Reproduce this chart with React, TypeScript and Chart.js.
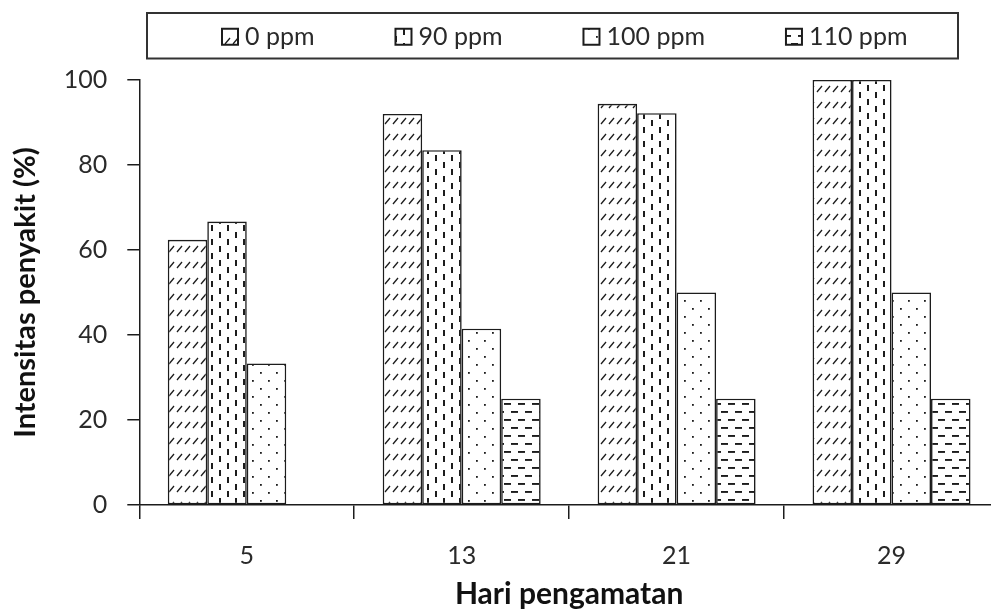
import { useEffect, useRef } from 'react';
import { Chart, registerables } from 'chart.js';

Chart.register(...registerables);

// ---- data ----
const days = ['5', '13', '21', '29'];
const seriesLabels = ['0 ppm', '90 ppm', '100 ppm', '110 ppm'];
const ppm0 = [62.4, 92, 94.4, 100];
const ppm90 = [66.7, 83.5, 92.2, 100];
const ppm100 = [33.3, 41.5, 50, 50];
const ppm110 = [0, 25, 25, 25];
const yTickValues = [0, 20, 40, 60, 80, 100];
const xTitle = 'Hari pengamatan';
const yTitle = 'Intensitas penyakit (%)';

// ---- styles ----
const INK = '#1c1c1c';
const TEXT = '#2a2a2a';
const FONT = 'Lato, "Open Sans", sans-serif';

function makePattern(kind: string): CanvasPattern | string {
  const c = document.createElement('canvas');
  let w = 16;
  let h = 16;
  if (kind === 'slash') { w = 8; h = 16; }
  if (kind === 'vdash') { w = 16; h = 14; }
  if (kind === 'hdash') { w = 14; h = 16; }
  c.width = w;
  c.height = h;
  const g = c.getContext('2d');
  if (!g) return '#fff';
  g.fillStyle = '#ffffff';
  g.fillRect(0, 0, w, h);
  g.fillStyle = INK;
  g.strokeStyle = INK;
  if (kind === 'slash') {
    g.lineWidth = 1.3;
    g.beginPath();
    g.moveTo(1, 12);
    g.lineTo(6, 6);
    g.stroke();
  } else if (kind === 'vdash') {
    g.fillRect(3, 1, 2, 6);
    g.fillRect(11, 8, 2, 6);
  } else if (kind === 'dots') {
    g.fillRect(4, 4, 1.8, 1.8);
    g.fillRect(12, 12, 1.8, 1.8);
  } else if (kind === 'hdash') {
    g.fillRect(0, 3, 7, 1.9);
    g.fillRect(7, 11, 7, 1.9);
  }
  const p = g.createPattern(c, 'repeat');
  return p || '#fff';
}

const boxLegend = {
  id: 'boxLegend',
  afterDraw(chart: any, _args: any, opts: any) {
    const { ctx } = chart;
    ctx.save();
    ctx.lineWidth = opts.borderWidth;
    ctx.strokeStyle = opts.borderColor;
    ctx.strokeRect(opts.left, opts.top, opts.right - opts.left, opts.bottom - opts.top);
    ctx.font = `${opts.fontSize}px ${FONT}`;
    ctx.textBaseline = 'middle';
    ctx.textAlign = 'left';
    const s = opts.swatch;
    const cy = (opts.top + opts.bottom) / 2 + 1;
    let x = opts.firstX;
    chart.data.datasets.forEach((ds: any) => {
      ctx.fillStyle = ds.backgroundColor;
      ctx.fillRect(x, cy - s / 2, s, s);
      ctx.lineWidth = 2;
      ctx.strokeStyle = ds.borderColor;
      ctx.strokeRect(x, cy - s / 2, s, s);
      ctx.fillStyle = TEXT;
      const tx = x + s + opts.textGap;
      ctx.fillText(ds.label, tx, cy);
      x = tx + ctx.measureText(ds.label).width + opts.itemGap;
    });
    ctx.restore();
  },
};

export default function App() {
  const canvasRef = useRef<HTMLCanvasElement | null>(null);

  useEffect(() => {
    const canvas = canvasRef.current;
    if (!canvas) return;
    const kinds = ['slash', 'vdash', 'dots', 'hdash'];
    const values = [ppm0, ppm90, ppm100, ppm110];
    const chart = new Chart(canvas, {
      type: 'bar',
      data: {
        labels: days,
        datasets: seriesLabels.map((label, i) => ({
          label,
          data: values[i],
          backgroundColor: makePattern(kinds[i]) as any,
          borderColor: INK,
          borderWidth: 1.6,
          borderSkipped: false,
          categoryPercentage: 0.735,
          barPercentage: 1,
        })),
      },
      plugins: [boxLegend],
      options: {
        animation: false,
        responsive: true,
        maintainAspectRatio: false,
        layout: { padding: { top: 80, right: 1, left: 0, bottom: 0 } },
        plugins: {
          legend: { display: false },
          tooltip: { enabled: false },
          boxLegend: {
            left: 147,
            top: 13,
            right: 958,
            bottom: 58.5,
            borderWidth: 2,
            borderColor: '#333',
            fontSize: 25,
            swatch: 16,
            textGap: 7,
            itemGap: 81,
            firstX: 222,
          },
        } as any,
        scales: {
          x: {
            offset: true,
            grid: {
              display: true,
              offset: true,
              drawOnChartArea: false,
              drawTicks: true,
              tickLength: 14,
              color: INK,
              lineWidth: 1.5,
            },
            border: { display: true, color: INK, width: 1.5 },
            ticks: {
              color: TEXT,
              padding: 22,
              font: { family: FONT, size: 25 },
            },
            title: {
              display: true,
              text: xTitle,
              color: '#111',
              font: { family: FONT, size: 30, weight: 'bold' },
              padding: { top: -17, bottom: 0 },
            },
          },
          y: {
            min: 0,
            max: 100,
            afterBuildTicks: (scale: any) => {
              scale.ticks = yTickValues.map((v) => ({ value: v }));
            },
            grid: {
              display: true,
              drawOnChartArea: false,
              drawTicks: true,
              tickLength: 12,
              color: INK,
              lineWidth: 1.5,
            },
            border: { display: true, color: INK, width: 1.5 },
            ticks: {
              color: TEXT,
              padding: 20,
              font: { family: FONT, size: 25 },
            },
            title: {
              display: true,
              text: yTitle,
              color: '#111',
              font: { family: FONT, size: 29, weight: 'bold' },
              padding: { top: 8, bottom: 1 },
            },
          },
        },
      },
    });
    return () => chart.destroy();
  }, []);

  return (
    <div
      style={{
        position: 'fixed',
        left: 0,
        top: 0,
        width: 991,
        height: 612,
        overflow: 'hidden',
        background: '#fff',
      }}
    >
      <div style={{ position: 'relative', width: 1000, height: 612 }}>
        <canvas ref={canvasRef} />
      </div>
    </div>
  );
}
